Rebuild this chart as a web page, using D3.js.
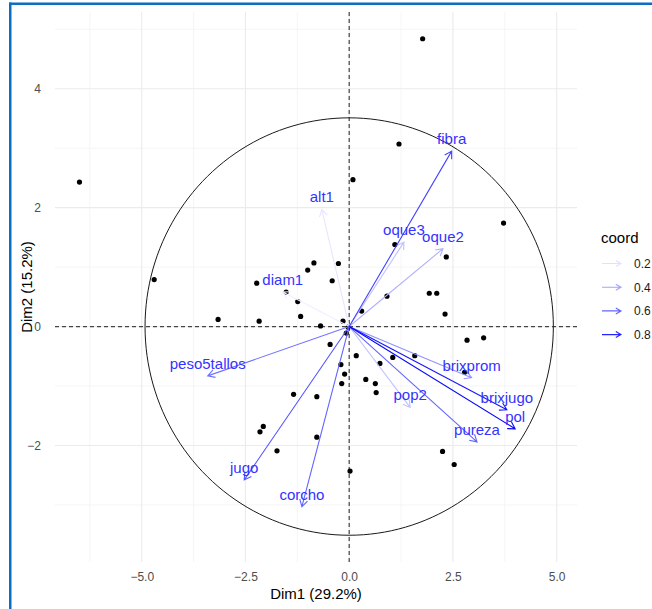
<!DOCTYPE html>
<html>
<head>
<meta charset="utf-8">
<script src="https://cdn.jsdelivr.net/npm/d3@7"></script>
<style>
  html, body { margin: 0; padding: 0; background: #ffffff; }
  svg { display: block; }
</style>
</head>
<body>
<svg id="chart" width="652" height="609"></svg>
<script>
// Individuals (PCA scores on Dim1 / Dim2)
const indX = [-6.50, -4.70, 1.77, 1.20, 0.09, 3.72, 1.10, 2.34, -2.23, -1.00,
              -0.85, -0.26, -0.41, -1.52, -1.24, -1.17, -3.16, -2.17, -0.69, -0.46,
               0.91, 1.93, 2.11, 2.31, 0.30, -0.15, -0.02, -0.07, 2.84, 3.24,
              -1.34, -0.78, -2.07, -2.15, -0.78, -1.74, 0.17, -0.20, -0.11, -0.18,
               0.74, 1.05, 1.58, 0.40, 0.63, 0.65, 2.78, 2.25, 2.53, 0.02];
const indY = [2.43, 0.79, 4.84, 3.07, 2.47, 1.74, 1.38, 1.17, 0.73, 0.95,
              1.07, 1.06, 0.77, 0.58, 0.42, 0.17, 0.12, 0.09, 0.01, -0.30,
              0.51, 0.56, 0.56, 0.21, 0.26, 0.09, -0.01, -0.11, -0.23, -0.19,
             -1.14, -1.18, -1.68, -1.77, -1.86, -2.09, -0.49, -0.64, -0.80, -0.96,
             -0.62, -0.52, -0.49, -0.89, -0.96, -1.11, -0.77, -2.10, -2.32, -2.43];

// Variables (scaled loadings) and their coord value
const varNames = ["fibra", "oque3", "oque2", "alt1", "diam1", "peso5tallos", "jugo",
                  "corcho", "brixprom", "brixjugo", "pol", "pureza", "pop2"];
const varX = [2.47, 1.32, 2.26, -0.66, -1.60, -3.41, -2.53, -1.14, 2.95, 3.80, 4.00, 3.08, 1.47];
const varY = [2.95, 1.42, 1.31, 1.97, 0.58, -0.83, -2.58, -3.03, -0.86, -1.40, -1.72, -1.94, -1.36];
const varCoord = [0.70, 0.30, 0.35, 0.18, 0.15, 0.55, 0.65, 0.60, 0.45, 0.85, 0.90, 0.60, 0.30];

// Axis ticks and legend breaks
const xTicks = [-5.0, -2.5, 0.0, 2.5, 5.0];
const xMinor = [-6.25, -3.75, -1.25, 1.25, 3.75];
const yTicks = [-2, 0, 2, 4];
const yMinor = [-3, -1, 1, 3, 5];
const legendBreaks = [0.2, 0.4, 0.6, 0.8];

// Correlation circle radii (data units per axis)
const circleRx = 4.92, circleRy = 3.51;

const svg = d3.select("#chart");
const panel = { left: 55, right: 577, top: 12, bottom: 562 };
const FONT = "Liberation Sans, Arial, sans-serif";

const x = d3.scaleLinear().domain([-7.09, 5.49]).range([panel.left, panel.right]);
const y = d3.scaleLinear().domain([-3.96, 5.29]).range([panel.bottom, panel.top]);

const color = d3.scaleLinear()
  .domain([0.1, 0.92])
  .range(["#ffffff", "#0000ff"])
  .interpolate(d3.interpolateRgb)
  .clamp(true);

// Frame around the figure
svg.append("rect").attr("x", 9).attr("y", 2.5).attr("width", 643).attr("height", 2.5).attr("fill", "#0b6fc1");
svg.append("rect").attr("x", 9).attr("y", 2.5).attr("width", 2.5).attr("height", 607).attr("fill", "#0b6fc1");

// Grid
const grid = svg.append("g");
grid.selectAll(".vminor").data(xMinor).join("line")
  .attr("x1", d => x(d)).attr("x2", d => x(d))
  .attr("y1", panel.top).attr("y2", panel.bottom)
  .attr("stroke", "#f2f2f2").attr("stroke-width", 0.8);
grid.selectAll(".hminor").data(yMinor).join("line")
  .attr("y1", d => y(d)).attr("y2", d => y(d))
  .attr("x1", panel.left).attr("x2", panel.right)
  .attr("stroke", "#f2f2f2").attr("stroke-width", 0.8);
grid.selectAll(".vmajor").data(xTicks).join("line")
  .attr("x1", d => x(d)).attr("x2", d => x(d))
  .attr("y1", panel.top).attr("y2", panel.bottom)
  .attr("stroke", "#ebebeb").attr("stroke-width", 1.1);
grid.selectAll(".hmajor").data(yTicks).join("line")
  .attr("y1", d => y(d)).attr("y2", d => y(d))
  .attr("x1", panel.left).attr("x2", panel.right)
  .attr("stroke", "#ebebeb").attr("stroke-width", 1.1);

// Axes (text only, minimal theme)
const xAxis = d3.axisBottom(x).tickValues(xTicks).tickFormat(d3.format(".1f")).tickSize(0).tickPadding(0);
svg.append("g").attr("transform", `translate(0,${panel.bottom + 10})`).call(xAxis)
  .call(g => g.select(".domain").remove())
  .call(g => g.selectAll("text").attr("fill", "#4d4d4d").attr("font-size", 12)
    .attr("font-family", FONT).attr("dy", "0.71em"));

const yAxis = d3.axisLeft(y).tickValues(yTicks).tickFormat(d3.format("d")).tickSize(0).tickPadding(0);
svg.append("g").attr("transform", `translate(${panel.left - 14},0)`).call(yAxis)
  .call(g => g.select(".domain").remove())
  .call(g => g.selectAll("text").attr("fill", "#4d4d4d").attr("font-size", 12)
    .attr("font-family", FONT));

// Axis titles
svg.append("text").attr("x", (panel.left + panel.right) / 2).attr("y", 599)
  .attr("text-anchor", "middle").attr("font-size", 15).attr("fill", "#000")
  .attr("font-family", FONT).text("Dim1 (29.2%)");
svg.append("text").attr("transform", `translate(32,${(panel.top + panel.bottom) / 2}) rotate(-90)`)
  .attr("text-anchor", "middle").attr("font-size", 15).attr("fill", "#000")
  .attr("font-family", FONT).text("Dim2 (15.2%)");

// Reference lines through the origin
svg.append("line").attr("x1", panel.left).attr("x2", panel.right).attr("y1", y(0)).attr("y2", y(0))
  .attr("stroke", "#444").attr("stroke-width", 1.2).attr("stroke-dasharray", "4,3");
svg.append("line").attr("x1", x(0)).attr("x2", x(0)).attr("y1", panel.top).attr("y2", panel.bottom)
  .attr("stroke", "#444").attr("stroke-width", 1.2).attr("stroke-dasharray", "4,3");

// Correlation circle
const circlePts = d3.range(0, 361, 2).map(a => {
  const t = a * Math.PI / 180;
  return [x(circleRx * Math.cos(t)), y(circleRy * Math.sin(t))];
});
svg.append("path").attr("d", d3.line()(circlePts)).attr("fill", "none")
  .attr("stroke", "#1a1a1a").attr("stroke-width", 1);

// Individuals
svg.append("g").selectAll("circle").data(indX).join("circle")
  .attr("cx", (d, i) => x(d)).attr("cy", (d, i) => y(indY[i]))
  .attr("r", 2.6).attr("fill", "#000");

// Variable arrows
function arrowPath(x0, y0, x1, y1, len = 8, ang = Math.PI / 6) {
  const a = Math.atan2(y1 - y0, x1 - x0);
  const p1 = [x1 - len * Math.cos(a - ang), y1 - len * Math.sin(a - ang)];
  const p2 = [x1 - len * Math.cos(a + ang), y1 - len * Math.sin(a + ang)];
  return `M${x0},${y0}L${x1},${y1}M${p1[0]},${p1[1]}L${x1},${y1}L${p2[0]},${p2[1]}`;
}
const order = d3.range(varNames.length).sort((a, b) => varCoord[a] - varCoord[b]);
svg.append("g").selectAll("path").data(order).join("path")
  .attr("d", i => arrowPath(x(0), y(0), x(varX[i]), y(varY[i])))
  .attr("fill", "none").attr("stroke", i => color(varCoord[i])).attr("stroke-width", 1.1);

svg.append("g").selectAll("text").data(order).join("text")
  .attr("x", i => x(varX[i])).attr("y", i => y(varY[i]) - 7)
  .attr("text-anchor", "middle").attr("font-size", 15)
  .attr("font-family", FONT)
  .attr("fill", "#3333ff").text(i => varNames[i]);

// Legend
const lg = svg.append("g").attr("transform", "translate(600,0)");
lg.append("text").attr("x", 1).attr("y", 243).attr("font-size", 15)
  .attr("font-family", FONT).attr("fill", "#000").text("coord");
const ly = d3.scalePoint().domain(legendBreaks).range([263.5, 334.6]);
legendBreaks.forEach(b => {
  lg.append("path").attr("d", arrowPath(2, ly(b), 21, ly(b), 6))
    .attr("fill", "none").attr("stroke", color(b)).attr("stroke-width", 1.1);
  lg.append("text").attr("x", 34).attr("y", ly(b) + 4.3).attr("font-size", 12)
    .attr("font-family", FONT).attr("fill", "#1a1a1a").text(b.toFixed(1));
});
</script>
</body>
</html>
